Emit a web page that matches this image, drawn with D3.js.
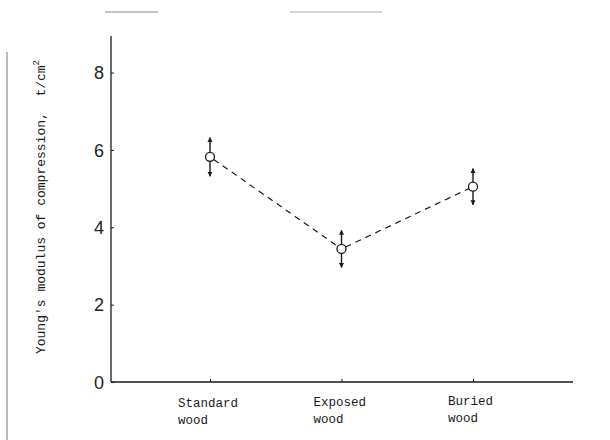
<!DOCTYPE html>
<html>
<head>
<meta charset="utf-8">
<script src="https://cdn.jsdelivr.net/npm/d3@7"></script>
<style>
  html, body { margin: 0; padding: 0; background: #fff; }
  svg { display: block; }
</style>
</head>
<body>
<svg id="chart" width="610" height="440"></svg>
<script>
const categories = ["Standard wood", "Exposed wood", "Buried wood"];
const values = [5.82, 3.44, 5.05];
const errors = [0.5, 0.48, 0.47];
const yTicks = [0, 2, 4, 6, 8];
const yLabel = "Young's modulus of compression,  t/cm";

const svg = d3.select("#chart");
const ink = "#1a1a1a";

const x = d3.scalePoint().domain(categories).range([210, 473]);
const y = d3.scaleLinear().domain([0, 9.1]).range([382, 30]);

// scan artifacts
svg.append("line").attr("x1", 7).attr("x2", 7).attr("y1", 52).attr("y2", 440)
  .attr("stroke", "#777").attr("stroke-width", 1);
svg.append("line").attr("x1", 105).attr("x2", 158).attr("y1", 12).attr("y2", 12)
  .attr("stroke", "#888").attr("stroke-width", 1);
svg.append("line").attr("x1", 290).attr("x2", 382).attr("y1", 12).attr("y2", 12)
  .attr("stroke", "#aaa").attr("stroke-width", 1);

// axes
const yAxis = d3.axisLeft(y).tickValues(yTicks).tickSize(-3).tickPadding(7)
  .tickFormat(d3.format("d"));
const gy = svg.append("g").attr("transform", "translate(111,0)").call(yAxis);
gy.select(".domain").remove();
gy.selectAll(".tick line").attr("stroke", ink);
gy.selectAll(".tick text").attr("fill", "#222")
  .style("font-family", "'Liberation Sans', Arial, sans-serif")
  .style("font-size", "18px").attr("dy", "0.35em");
svg.append("line").attr("x1", 111).attr("x2", 111).attr("y1", y(9.1) + 6).attr("y2", y(0))
  .attr("stroke", ink).attr("stroke-width", 1.3);

const xAxis = d3.axisBottom(x).tickSize(-3).tickFormat("");
const gx = svg.append("g").attr("transform", `translate(0,${y(0)})`).call(xAxis);
gx.select(".domain").remove();
gx.selectAll(".tick line").attr("stroke", ink);
svg.append("line").attr("x1", 111).attr("x2", 573).attr("y1", y(0)).attr("y2", y(0))
  .attr("stroke", ink).attr("stroke-width", 1.3);

// category labels
const labelOffsets = [-32, -28, -25];
const labelDy = [0, -1, -2];
categories.forEach((c, i) => {
  const parts = c.split(" ");
  const t = svg.append("text")
    .attr("x", x(c) + labelOffsets[i])
    .attr("y", 407 + labelDy[i])
    .attr("fill", ink)
    .style("font-family", "'Liberation Mono', 'DejaVu Sans Mono', monospace")
    .style("font-size", "12.5px");
  parts.forEach((p, j) => {
    t.append("tspan").attr("x", x(c) + labelOffsets[i]).attr("dy", j === 0 ? 0 : 17).text(p);
  });
});

// y label
const yl = svg.append("text")
  .attr("transform", "translate(45,207) rotate(-90)")
  .attr("text-anchor", "middle")
  .attr("fill", ink)
  .style("font-family", "'Liberation Mono', 'DejaVu Sans Mono', monospace")
  .style("font-size", "13px")
  .style("white-space", "pre")
  .attr("xml:space", "preserve");
yl.append("tspan").text(yLabel);
yl.append("tspan").attr("dy", -6).style("font-size", "9px").text("2");

// arrow marker
const defs = svg.append("defs");
defs.append("marker").attr("id", "arr")
  .attr("viewBox", "0 0 10 10").attr("refX", 9).attr("refY", 5)
  .attr("markerWidth", 5).attr("markerHeight", 6).attr("markerUnits", "userSpaceOnUse")
  .attr("orient", "auto")
  .append("path").attr("d", "M0,0 L10,5 L0,10 Z").attr("fill", ink);

// dashed connecting line
const pts = categories.map((c, i) => [x(c), y(values[i])]);
const line = d3.line();
// shorten segments to stop at circle edge
const r = 4.5;
for (let i = 0; i < pts.length - 1; i++) {
  const [x1, y1] = pts[i], [x2, y2] = pts[i + 1];
  const L = Math.hypot(x2 - x1, y2 - y1);
  const ux = (x2 - x1) / L, uy = (y2 - y1) / L;
  svg.append("path")
    .attr("d", line([[x1 + ux * r, y1 + uy * r], [x2 - ux * r, y2 - uy * r]]))
    .attr("fill", "none").attr("stroke", ink).attr("stroke-width", 1.2)
    .attr("stroke-dasharray", "6,5");
}

// error arrows
categories.forEach((c, i) => {
  const cx = x(c), v = values[i], e = errors[i];
  svg.append("line").attr("x1", cx).attr("x2", cx)
    .attr("y1", y(v) - r).attr("y2", y(v + e))
    .attr("stroke", ink).attr("stroke-width", 1.4).attr("marker-end", "url(#arr)");
  svg.append("line").attr("x1", cx).attr("x2", cx)
    .attr("y1", y(v) + r).attr("y2", y(v - e))
    .attr("stroke", ink).attr("stroke-width", 1.4).attr("marker-end", "url(#arr)");
});

// points
svg.selectAll("circle.pt").data(categories).enter().append("circle")
  .attr("class", "pt")
  .attr("cx", d => x(d))
  .attr("cy", (d, i) => y(values[i]))
  .attr("r", r)
  .attr("fill", "#fff").attr("stroke", ink).attr("stroke-width", 1.3);
</script>
</body>
</html>
